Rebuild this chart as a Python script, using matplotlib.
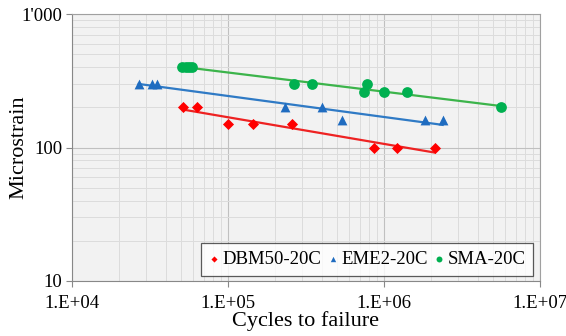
import numpy as np
import matplotlib
matplotlib.use("Agg")
import matplotlib.pyplot as plt
from matplotlib.ticker import FixedLocator, FixedFormatter, LogLocator, NullFormatter

# data (cycles, microstrain)
dbm_cycles = [51500, 63000, 100000, 145000, 257000, 863000, 1210000, 2120000]
dbm_strain = [200, 200, 150, 150, 150, 100, 100, 100]

eme_cycles = [26800, 32600, 35000, 232000, 401000, 538000, 1840000, 2380000]
eme_strain = [300, 300, 300, 200, 200, 160, 160, 160]

sma_cycles = [51000, 53800, 56500, 58500, 265000, 344000, 748000, 775000, 1000000, 1400000, 5600000]
sma_strain = [400, 400, 400, 400, 300, 300, 260, 300, 260, 260, 200]

series = [
    ("DBM50-20C", dbm_cycles, dbm_strain, "D", "#ff0000", "#ee2222", 32),
    ("EME2-20C", eme_cycles, eme_strain, "^", "#1f6cc0", "#2f7ac5", 50),
    ("SMA-20C", sma_cycles, sma_strain, "o", "#00b050", "#3cb44b", 60),
]

x_ticks = [1e4, 1e5, 1e6, 1e7]
x_labels = ["1.E+04", "1.E+05", "1.E+06", "1.E+07"]
y_ticks = [10, 100, 1000]
y_labels = ["10", "100", "1'000"]

plt.rcParams["font.family"] = ["Liberation Serif", "DejaVu Serif"]

fig = plt.figure(figsize=(5.66, 3.36), dpi=100)
ax = fig.add_axes([0.127, 0.164, 0.827, 0.794])
ax.set_facecolor("#f2f2f2")

for name, xs, ys, mk, mcol, lcol, sz in series:
    xs = np.array(xs, dtype=float)
    ys = np.array(ys, dtype=float)
    # power trendline (linear fit in log-log)
    b, a = np.polyfit(np.log10(xs), np.log10(ys), 1)
    xl = np.array([xs.min(), xs.max()])
    ax.plot(xl, 10 ** (a + b * np.log10(xl)), color=lcol, lw=1.6, zorder=2)
    ax.scatter(xs, ys, marker=mk, color=mcol, s=sz, zorder=3, label=name, linewidths=0)

ax.set_xscale("log")
ax.set_yscale("log")
ax.set_xlim(1e4, 1e7)
ax.set_ylim(10, 1000)

ax.xaxis.set_major_locator(FixedLocator(x_ticks))
ax.xaxis.set_major_formatter(FixedFormatter(x_labels))
ax.yaxis.set_major_locator(FixedLocator(y_ticks))
ax.yaxis.set_major_formatter(FixedFormatter(y_labels))
ax.xaxis.set_minor_locator(LogLocator(base=10, subs=np.arange(2, 10)))
ax.yaxis.set_minor_locator(LogLocator(base=10, subs=np.arange(2, 10)))
ax.xaxis.set_minor_formatter(NullFormatter())
ax.yaxis.set_minor_formatter(NullFormatter())

ax.grid(True, which="major", color="#c0c0c0", lw=0.8, zorder=0)
ax.grid(True, which="minor", color="#dcdcdc", lw=0.7, zorder=0)
ax.set_axisbelow(True)

ax.tick_params(which="major", length=4, width=0.8, color="#888888", labelsize=13.5)
ax.tick_params(axis="x", which="major", pad=6)
ax.tick_params(axis="y", which="major", pad=3)
ax.tick_params(which="minor", length=0)
for s in ax.spines.values():
    s.set_color("#a0a0a0")
    s.set_linewidth(0.8)
ax.spines["left"].set_color("#888888")
ax.spines["bottom"].set_color("#888888")

ax.set_xlabel("Cycles to failure", fontsize=16)
ax.set_ylabel("Microstrain", fontsize=16)
ax.xaxis.set_label_coords(0.5, -0.115)
ax.yaxis.set_label_coords(-0.092, 0.5)

leg = ax.legend(loc="lower right", ncol=3, fontsize=13.5, frameon=True, fancybox=False,
                handletextpad=0.15, columnspacing=0.3, handlelength=0.6,
                borderpad=0.4, borderaxespad=0, bbox_to_anchor=(0.985, 0.02),
                markerscale=0.55)
leg.get_frame().set_edgecolor("#333333")
leg.get_frame().set_facecolor("white")
leg.get_frame().set_linewidth(0.9)

fig.savefig("out.png", dpi=100)
